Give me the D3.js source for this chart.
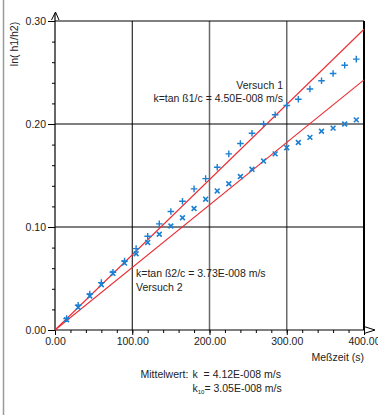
<!DOCTYPE html>
<html><head><meta charset="utf-8">
<script src="https://cdn.jsdelivr.net/npm/d3@7"></script>
<style>
html,body{margin:0;padding:0;background:#fff;}
svg{display:block;font-family:"Liberation Sans",Arial,sans-serif;}
text{white-space:pre;}
</style></head>
<body>
<svg id="c" width="378" height="415"></svg>
<script>
// ---- data ----
const times = [15,30,45,60,75,90,105,120,135,150,165,180,195,210,225,240,255,270,285,300,315,330,345,360,375,390];
const versuch1 = [0.011,0.024,0.035,0.046,0.056,0.067,0.079,0.091,0.103,0.115,0.125,0.137,0.147,0.158,0.171,0.181,0.191,0.200,0.209,0.218,0.224,0.234,0.242,0.249,0.257,0.263];
const versuch2 = [0.010,0.022,0.033,0.044,0.055,0.065,0.074,0.085,0.093,0.101,0.109,0.118,0.127,0.135,0.142,0.149,0.156,0.164,0.171,0.177,0.182,0.187,0.193,0.196,0.200,0.204];
const fitSlopes = [0.00073, 0.000607]; // ln(h1/h2) per second, Versuch 1 / Versuch 2
const xTicks = [0,100,200,300,400];
const yTicks = [0,0.10,0.20,0.30];
const xDomain = [0,400];
const yDomain = [0,0.30];

const svg = d3.select("#c");
const x = d3.scaleLinear().domain(xDomain).range([55,364]);
const y = d3.scaleLinear().domain(yDomain).range([330,21]);

// image left border
svg.append("line").attr("x1",3.5).attr("x2",3.5).attr("y1",0).attr("y2",415)
  .attr("stroke","#9a9a9a").attr("stroke-width",1.5);

// grid
const g = svg.append("g");
[100,200,300].forEach(v=>{
  g.append("line").attr("x1",x(v)).attr("x2",x(v)).attr("y1",y(0.3)).attr("y2",y(0))
   .attr("stroke", v===100?"#000":"#6a6a6a").attr("stroke-width", v===100?1:1.5);
});
[0.1,0.2,0.3].forEach(v=>{
  g.append("line").attr("x1",x(0)).attr("x2",x(400)).attr("y1",y(v)).attr("y2",y(v))
   .attr("stroke","#000").attr("stroke-width",1);
});
g.append("line").attr("x1",x(400)).attr("x2",x(400)).attr("y1",y(0.3)).attr("y2",y(0))
  .attr("stroke","#000").attr("stroke-width",2);

// axes
const fmt = d3.format(".2f");
const yAxis = svg.append("g").attr("transform",`translate(${x(0)},0)`)
  .call(d3.axisLeft(y).tickValues(yTicks).tickSize(7).tickPadding(2).tickFormat(fmt));
const yMinor = svg.append("g").attr("transform",`translate(${x(0)},0)`)
  .call(d3.axisLeft(y).tickValues(d3.range(0.02,0.3,0.02)).tickSize(3).tickFormat(""));
const xAxis = svg.append("g").attr("transform",`translate(0,${y(0)})`)
  .call(d3.axisBottom(x).tickValues(xTicks).tickSize(5).tickPadding(3).tickFormat(fmt));
const xMinor = svg.append("g").attr("transform",`translate(0,${y(0)})`)
  .call(d3.axisBottom(x).tickValues(d3.range(20,400,20)).tickSize(3).tickFormat(""));
[yAxis,yMinor,xAxis,xMinor].forEach(a=>{
  a.select(".domain").remove();
  a.selectAll("line").attr("stroke","#000");
  a.selectAll("text").attr("fill","#222").style("font-size","10.5px").style("font-family","'Liberation Sans',Arial,sans-serif");
});
// axis lines with arrows
svg.append("line").attr("x1",x(0)).attr("x2",x(0)).attr("y1",y(0)).attr("y2",13)
  .attr("stroke","#000").attr("stroke-width",1.2);
svg.append("path").attr("d",`M${x(0)-3.5},20 L${x(0)+0.5},12 L${x(0)+4},20`)
  .attr("fill","none").attr("stroke","#000").attr("stroke-width",1);
svg.append("line").attr("x1",x(0)).attr("x2",x(400)).attr("y1",y(0)).attr("y2",y(0))
  .attr("stroke","#000").attr("stroke-width",1.2);
svg.append("path").attr("d",`M${x(400)},${y(0)-3.5} L${x(400)+11},${y(0)} L${x(400)},${y(0)+3.5}`)
  .attr("fill","none").attr("stroke","#000").attr("stroke-width",1);

// fit lines
const red = "#ec2d35";
fitSlopes.forEach(s=>{
  svg.append("line").attr("x1",x(0)).attr("y1",y(0)).attr("x2",x(400)).attr("y2",y(s*400))
    .attr("stroke",red).attr("stroke-width",1.1);
});

// markers
const blue = "#1b7fd2";
const pts1 = times.map((t,i)=>[t,versuch1[i]]);
const pts2 = times.map((t,i)=>[t,versuch2[i]]);
svg.append("g").selectAll("path").data(pts2).join("path")
  .attr("d",d=>{const cx=x(d[0]),cy=y(d[1]),r=2.4;return `M${cx-r},${cy-r}L${cx+r},${cy+r}M${cx-r},${cy+r}L${cx+r},${cy-r}`;})
  .attr("stroke",blue).attr("stroke-width",1.6).attr("fill","none");
svg.append("g").selectAll("path").data(pts1).join("path")
  .attr("d",d=>{const cx=x(d[0]),cy=y(d[1]),r=3.3;return `M${cx-r},${cy}L${cx+r},${cy}M${cx},${cy-r}L${cx},${cy+r}`;})
  .attr("stroke",blue).attr("stroke-width",1.4).attr("fill","none");

// texts
const T = (tx,ty,s,anchor)=>svg.append("text").attr("x",tx).attr("y",ty).attr("text-anchor",anchor||"start")
  .attr("fill","#222").style("font-size","10.5px").text(s);
svg.append("text").attr("transform","translate(18,44) rotate(-90)").attr("text-anchor","middle")
  .attr("fill","#222").style("font-size","10.5px").text("ln( h1/h2)");
T(283,89,"Versuch 1","end");
T(283,102,"k=tan ß1/c = 4.50E-008 m/s","end");
T(136,277,"k=tan ß2/c = 3.73E-008 m/s");
T(136,290.5,"Versuch 2");
T(364,361,"Meßzeit (s)","end");
T(140.5,378,"Mittelwert:");
T(192.5,378,"k  = 4.12E-008 m/s");
const k10 = T(192.5,391.5,"");
k10.append("tspan").text("k");
k10.append("tspan").attr("dy",2).style("font-size","6px").text("10");
k10.append("tspan").attr("dy",-2).text("= 3.05E-008 m/s");
</script>
</body></html>
